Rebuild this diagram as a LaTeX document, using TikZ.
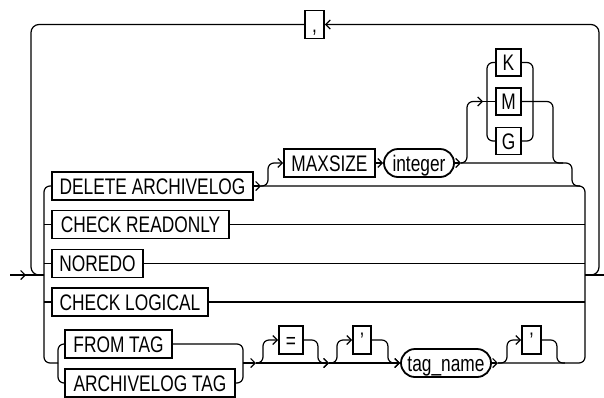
\documentclass[tikz,border=0pt]{standalone}
\usepackage{fontspec}
\setmainfont{Liberation Sans}[FakeStretch=0.77]
\usetikzlibrary{arrows.meta}

\tikzset{
  kw/.style={draw, line width=1.8pt, minimum height=28pt, inner sep=0pt,
    text height=16.1pt, text depth=0pt},
  var/.style={kw, rounded corners=14pt},
  rail/.style={line width=1.2pt, rounded corners=6pt},
  loop/.style={line width=1.2pt, rounded corners=8pt},
  arr/.style={-{Straight Barb[length=4.5pt,width=9pt,line width=1.2pt]}}
}

\begin{document}
\begin{tikzpicture}[x=1pt, y=-1pt, font=\fontsize{22.5pt}{25pt}\selectfont]
  \useasboundingbox (0,0) rectangle (604,397);
  % rails and junctions
  \coordinate (start) at (10,275);
  \coordinate (stop) at (604,275);
  \coordinate (lx) at (44,275);
  \coordinate (rx) at (585,275);
  \coordinate (lowl) at (44,363);
  \coordinate (lowr) at (585,363);
  \coordinate (subl) at (58,363);
  \coordinate (subr) at (243,363);
  \coordinate (loopl) at (31,24.5);
  \coordinate (loopr) at (599,24.5);
  \coordinate (j1) at (261,186);
  \coordinate (j2) at (461,163);
  \coordinate (j3) at (572,186);
  \coordinate (j4) at (580,186);
  \coordinate (mx) at (553,163);
  \coordinate (kmgin) at (483,101.5);
  \coordinate (kl) at (487,101.5);
  \coordinate (kr) at (533,101.5);
  \coordinate (j5) at (256,363);
  \coordinate (j6) at (329,363);
  \coordinate (j7) at (498,363);
  % repeat loop
  \node[kw, minimum width=19pt] (com) at (314.5,24.5) {,};
  % options
  \node[kw, minimum width=201pt] (del) at (152.5,186) {DELETE ARCHIVELOG};
  \node[kw, minimum width=177pt] (crd) at (140.5,224.5) {CHECK READONLY};
  \node[kw, minimum width=91pt] (nor) at (97.5,263.5) {NOREDO};
  \node[kw, minimum width=156pt] (clg) at (130,302) {CHECK LOGICAL};
  \node[kw, minimum width=107pt] (ft) at (118.5,344) {FROM TAG};
  \node[kw, minimum width=170pt] (at) at (150,383) {ARCHIVELOG TAG};
  % maxsize clause
  \node[kw, minimum width=91pt] (max) at (329.5,163) {MAXSIZE};
  \node[var, minimum width=70pt] (int) at (419,163) {integer};
  \node[kw, minimum width=25pt, minimum height=27pt] (k) at (508.5,62.5) {K};
  \node[kw, minimum width=25pt, minimum height=27pt] (m) at (508.5,101.5) {M};
  \node[kw, minimum width=25pt, minimum height=27pt] (g) at (508.5,141) {G};
  % tag clause
  \node[kw, minimum width=24pt] (eq) at (291,340) {=};
  \node[kw, minimum width=18pt] (q1) at (362,340) {’};
  \node[var, minimum width=90pt] (tag) at (446,363) {tag\_name};
  \node[kw, minimum width=19pt] (q2) at (531.5,340) {’};

  % entry, exit and loop
  \draw[rail, arr] (start) -- ++(16,0);
  \draw[rail] (start) -- (lx);
  \draw[rail] (rx) -- (stop);
  \draw[loop, arr] (rx) -| (loopr) -- (com.east);
  \draw[loop] (com.west) -- (loopl) |- (lx);
  % left rail
  \draw[rail] (del.west) -| (lowl) -- (subl);
  \draw[rail] (crd.west) -- (crd.west -| lowl);
  \draw[rail] (nor.west) -- (nor.west -| lowl);
  \draw[rail] (clg.west) -- (clg.west -| lowl);
  \draw[rail] (ft.west) -| (subl);
  \draw[rail] (at.west) -| (subl);
  % right rail
  \draw[rail] (del.east) -| (lowr) -- (j7);
  \draw[rail] (crd.east) -- (crd.east -| rx);
  \draw[rail] (nor.east) -- (nor.east -| rx);
  \draw[rail] (clg.east) -- (clg.east -| rx);
  % maxsize
  \draw[rail, arr] (del.east) -- (j1);
  \draw[rail, arr] (j1) -- ++(7,0) |- (max.west);
  \draw[rail, arr] (max.east) -- (int.west);
  \draw[rail, arr] (int.east) -- (j2);
  \draw[rail] (j2) -| (j3) -- (j4);
  \draw[rail, arr] (j2) -- ++(6,0) |- (kmgin);
  \draw[rail] (kmgin) -- (m.west);
  \draw[rail] (k.west) -| (kl) |- (g.west);
  \draw[rail] (k.east) -| (kr) |- (g.east);
  \draw[rail] (m.east) -| (mx) -- ++(10,0);
  % tag
  \draw[rail] (ft.east) -| (subr) |- (at.east);
  \draw[rail, arr] (subr) -- (j5);
  \draw[rail, arr] (j5) -- ++(7,0) |- (eq.west);
  \draw[rail, arr] (j5) -- (j6);
  \draw[rail, arr] (eq.east) -| ++(14,23) -- (j6);
  \draw[rail, arr] (j6) -- ++(8,0) |- (q1.west);
  \draw[rail, arr] (j6) -- (tag.west);
  \draw[rail, arr] (q1.east) -| ++(16,23) -- (tag.west);
  \draw[rail, arr] (tag.east) -- (j7);
  \draw[rail, arr] (j7) -- ++(9,0) |- (q2.west);
  \draw[rail] (q2.east) -| ++(15,23) -- ++(8,0);
\end{tikzpicture}
\end{document}
